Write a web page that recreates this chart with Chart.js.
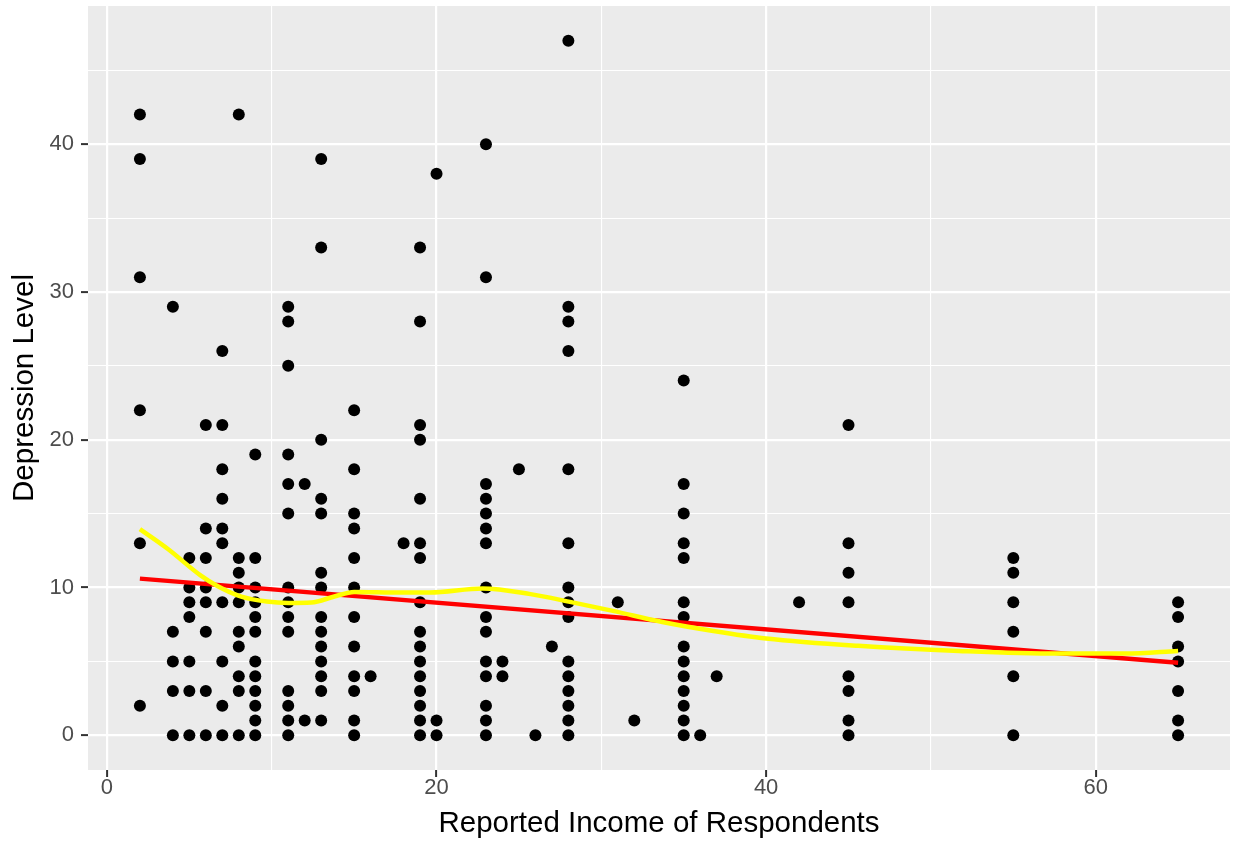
<!DOCTYPE html>
<html>
<head>
<meta charset="utf-8">
<script src="https://cdn.jsdelivr.net/npm/chart.js@4.4.1/dist/chart.umd.min.js"></script>
<style>
  body { margin: 0; background: #fff; }
  canvas { display: block; }
</style>
</head>
<body>
<canvas id="myChart" width="1236" height="843"></canvas>
<script>
// income values that appear in the data, and the depression scores seen at each one
var incomeLevels = [2, 4, 5, 6, 7, 8, 9, 11, 12, 13, 15, 16, 18, 19, 20, 23, 24, 25, 26, 27, 28, 31, 32, 35, 36, 37, 42, 45, 55, 65];
var depressionAtLevel = [
  [42, 39, 31, 22, 13, 2],
  [29, 7, 5, 3, 0],
  [12, 10, 9, 8, 5, 3, 0],
  [21, 14, 12, 10, 9, 7, 3, 0],
  [26, 21, 18, 16, 14, 13, 9, 5, 2, 0],
  [42, 12, 11, 10, 9, 7, 6, 4, 3, 0],
  [19, 12, 10, 9, 8, 7, 5, 4, 3, 2, 1, 0],
  [29, 28, 25, 19, 17, 15, 10, 9, 8, 7, 3, 2, 1, 0],
  [17, 1],
  [39, 33, 20, 16, 15, 11, 10, 8, 7, 6, 5, 4, 3, 1],
  [22, 18, 15, 14, 12, 10, 8, 6, 4, 3, 1, 0],
  [4],
  [13],
  [33, 28, 21, 20, 16, 13, 12, 9, 7, 6, 5, 4, 3, 2, 1, 0],
  [38, 1, 0],
  [40, 31, 17, 16, 15, 14, 13, 10, 8, 7, 5, 4, 2, 1, 0],
  [5, 4],
  [18],
  [0],
  [6],
  [47, 29, 28, 26, 18, 13, 10, 9, 8, 5, 4, 3, 2, 1, 0],
  [9],
  [1],
  [24, 17, 15, 13, 12, 9, 8, 6, 5, 4, 3, 2, 1, 0],
  [0],
  [4],
  [9],
  [21, 13, 11, 9, 4, 3, 1, 0],
  [12, 11, 9, 7, 4, 0],
  [9, 8, 6, 5, 3, 1, 0]
];

// fitted lines
var lmX = [2, 65];
var lmY = [10.6, 4.9];
var loessX = [2, 3.7, 5.7, 6.7, 8.1, 9.7, 11, 12.4, 13.8, 15, 17.8, 19.6, 22.8, 25.7, 28.1, 30.7, 33.7, 36.8, 40, 45.6, 51.7, 57.7, 61.8, 65];
var loessY = [13.95, 12.6, 10.8, 10.1, 9.4, 9.05, 8.95, 8.98, 9.39, 9.7, 9.66, 9.66, 9.93, 9.55, 9.03, 8.42, 7.67, 7.06, 6.55, 6.05, 5.71, 5.53, 5.53, 5.71];

var xTicks = [0, 20, 40, 60];
var yTicks = [0, 10, 20, 30, 40];

var points = [];
incomeLevels.forEach(function (inc, i) {
  depressionAtLevel[i].forEach(function (d) { points.push({x: inc, y: d}); });
});
function pairs(xs, ys) {
  return xs.map(function (x, i) { return {x: x, y: ys[i]}; });
}

var panelBg = {
  id: 'panelBg',
  beforeDraw: function (chart) {
    var a = chart.chartArea, c = chart.ctx;
    c.save();
    c.fillStyle = '#EBEBEB';
    c.fillRect(a.left, a.top, a.right - a.left, a.bottom - a.top);
    c.restore();
  }
};

var FONT = '"Liberation Sans", Arial, Helvetica, sans-serif';

function axisOpts(min, max, step, major, title, isY) {
  return {
    type: 'linear',
    min: min,
    max: max,
    border: { display: false },
    grid: {
      color: '#FFFFFF',
      lineWidth: function (c) { return major.indexOf(c.tick.value) >= 0 ? 2.2 : 1.1; },
      tickColor: function (c) { return major.indexOf(c.tick.value) >= 0 ? '#333333' : 'rgba(0,0,0,0)'; },
      tickWidth: 2,
      tickLength: 7
    },
    ticks: {
      stepSize: step,
      includeBounds: false,
      autoSkip: false,
      maxRotation: 0,
      padding: isY ? 7 : 0,
      color: '#4D4D4D',
      font: { family: FONT, size: 22, lineHeight: 1 },
      callback: function (v) { return major.indexOf(v) >= 0 ? String(v) : ''; }
    },
    title: {
      display: true,
      text: title,
      color: '#000000',
      font: { family: FONT, size: 29.5, lineHeight: 1 },
      padding: isY ? { top: 10 } : { bottom: 4 }
    },
    afterFit: function (s) {
      if (isY) {
        s.width = 88;
        s.paddingTop = 0;
        s.paddingBottom = 0;
      } else {
        s.height = 73;
        s.paddingLeft = 0;
        s.paddingRight = 0;
      }
    }
  };
}

var ctx = document.getElementById('myChart').getContext('2d');
var myChart = new Chart(ctx, {
  type: 'scatter',
  data: {
    datasets: [{
      label: 'loess',
      data: pairs(loessX, loessY),
      showLine: true,
      borderColor: '#FFFF00',
      borderWidth: 4.5,
      pointRadius: 0,
      cubicInterpolationMode: 'monotone',
      order: 0
    }, {
      label: 'lm',
      data: pairs(lmX, lmY),
      showLine: true,
      borderColor: '#FF0000',
      borderWidth: 4.5,
      pointRadius: 0,
      order: 1
    }, {
      label: 'respondents',
      data: points,
      backgroundColor: '#000000',
      borderColor: '#000000',
      borderWidth: 0,
      pointRadius: 6,
      order: 2
    }]
  },
  options: {
    responsive: false,
    devicePixelRatio: 1,
    animation: false,
    layout: { padding: { top: 5, right: 6, left: 0, bottom: 0 } },
    plugins: {
      legend: { display: false },
      tooltip: { enabled: false }
    },
    scales: {
      x: axisOpts(-1.15, 68.15, 10, xTicks, 'Reported Income of Respondents', false),
      y: axisOpts(-2.35, 49.35, 5, yTicks, 'Depression Level', true)
    }
  },
  plugins: [panelBg]
});
</script>
</body>
</html>
